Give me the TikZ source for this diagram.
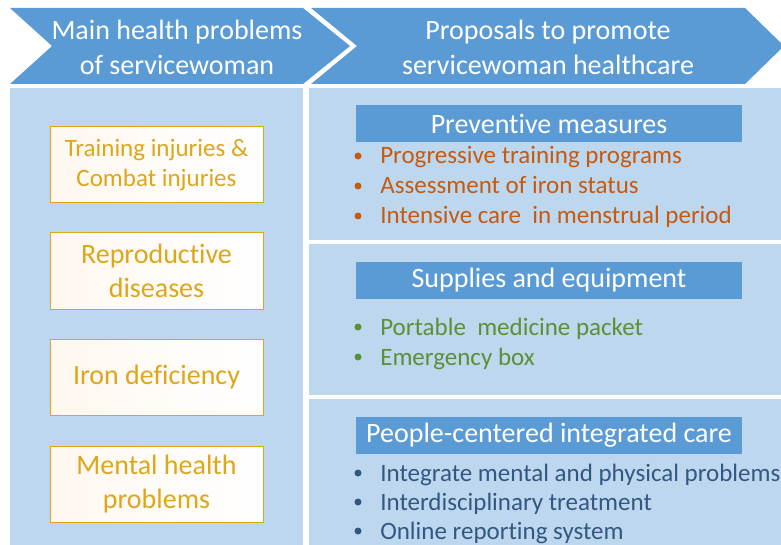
\documentclass[tikz,border=0pt]{standalone}
\usepackage{fontspec}
\setmainfont{Carlito}[Ligatures=NoCommon]
\usepackage{tikz}
\usetikzlibrary{positioning, shapes.geometric}
\definecolor{chevblue}{RGB}{91,155,213}
\definecolor{panelblue}{RGB}{189,215,238}
\definecolor{gold}{RGB}{222,166,25}
\definecolor{rust}{RGB}{197,90,17}
\definecolor{leaf}{RGB}{90,145,55}
\definecolor{navy}{RGB}{50,88,130}
\tikzset{
    head/.style ={text=white, align=center, font=\fontsize{28}{35}\selectfont},
    problem/.style ={draw=gold, line width=1pt, left color=orange!6, right color=white,
                     text=gold, align=center, minimum width=213pt, minimum height=76pt},
    bar/.style ={fill=chevblue, text=white, minimum width=386pt, minimum height=37pt,
                 font=\fontsize{28}{30}\selectfont},
    entry/.style ={anchor=base west, inner sep=0pt, font=\fontsize{25}{30}\selectfont}
    }

\begin{document}
\begin{tikzpicture}[
      x = 1pt, y = -1pt, % one unit per pixel, y downwards
      semithick
    ]
    \clip (0,0) rectangle (781,545);
    \useasboundingbox (0,0) rectangle (781,545);

    % header arrows
    \fill[chevblue] (10,8) -- (303,8) -- (350,46) -- (303,84) -- (10,84) -- (52,46) -- cycle;
    \fill[chevblue] (311,8) -- (745,8) -- (784,46) -- (745,84) -- (311,84) -- (357,46) -- cycle;
    \node[head] (lefthead) at (177,47) {Main health problems\\of servicewoman};
    \node[head] (righthead) at (548,47) {Proposals to promote\\servicewoman healthcare};

    % panels
    \fill[panelblue] (10,88) rectangle (303,545);
    \fill[panelblue] (309,88) rectangle (781,240);
    \fill[panelblue] (309,244) rectangle (781,395);
    \fill[panelblue] (309,399) rectangle (781,545);

    % health problems
    \node[problem, font=\fontsize{25}{30}\selectfont] (injury) at (156.5,165) {Training injuries \&\\Combat injuries};
    \node[problem, font=\fontsize{28}{34}\selectfont] (repro) at (156.5,271) {Reproductive\\diseases};
    \node[problem, font=\fontsize{28}{34}\selectfont] (iron) at (156.5,377.5) {Iron deficiency};
    \node[problem, font=\fontsize{28}{34}\selectfont] (mental) at (156.5,484) {Mental health\\problems};

    % proposals
    \node[bar] (prevent) at (549,124) {Preventive measures};
    \node[bar] (supply) at (549,280.5) {Supplies and equipment};
    \node[bar] (people) at (549,435) {People-centered integrated care};

    \foreach \t [count=\i, evaluate=\i as \y using 134+30*\i] in
        {Progressive training programs, Assessment of iron status, Intensive care~ in menstrual period}{
      \node[entry, text=rust] (prev\i) at (380,\y) {\t};
      \fill[rust] (358,\y-8) circle (3.5pt);
    }
    \foreach \t [count=\i, evaluate=\i as \y using 305+30*\i] in
        {Portable~ medicine packet, Emergency box}{
      \node[entry, text=leaf] (supp\i) at (380,\y) {\t};
      \fill[leaf] (358,\y-8) circle (3.5pt);
    }
    \foreach \t [count=\i, evaluate=\i as \y using 452+29*\i] in
        {Integrate mental and physical problems, Interdisciplinary treatment, Online reporting system}{
      \node[entry, text=navy] (care\i) at (380,\y) {\t};
      \fill[navy] (358,\y-8) circle (3.5pt);
    }
\end{tikzpicture}
\end{document}
